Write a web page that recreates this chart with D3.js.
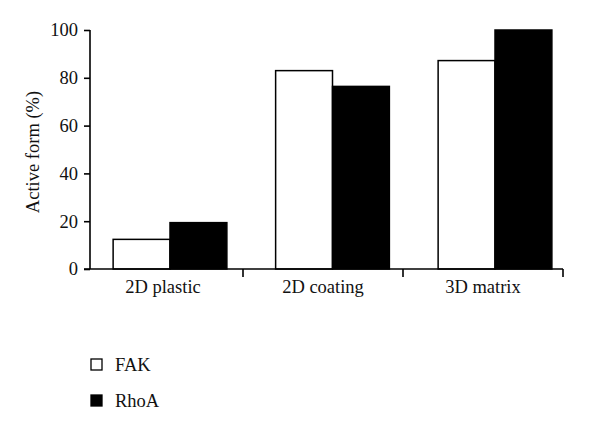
<!DOCTYPE html>
<html><head><meta charset="utf-8">
<script src="https://cdn.jsdelivr.net/npm/d3@7"></script>
<style>body{margin:0;background:#fff;} svg{display:block;} text{font-family:"Liberation Serif","Times New Roman",serif;fill:#111;}</style>
</head><body>
<svg id="c" width="600" height="432"></svg>
<script>
const categories = ["2D plastic", "2D coating", "3D matrix"];
const seriesNames = ["FAK", "RhoA"];
const fakValues = [12.4, 83.0, 87.2];
const rhoaValues = [19.4, 76.4, 100];
const yTicks = [0, 20, 40, 60, 80, 100];
const seriesFill = ["#fff", "#000"];
const FS = "18.5px";

const svg = d3.select("#c");
const y = d3.scaleLinear().domain([0, 100]).range([269, 30]);
const xAxisBand = d3.scaleBand().domain(categories).range([83, 563]).padding(0);
const xGroup = d3.scaleBand().domain(categories).range([88.75, 576.25]).paddingInner(0.3).paddingOuter(0.15);
const xSub = d3.scaleBand().domain(seriesNames).range([0, xGroup.bandwidth()]);

const data = categories.map((c, i) => ({cat: c, vals: [fakValues[i], rhoaValues[i]]}));

// bars
const g = svg.append("g");
data.forEach(d => {
  seriesNames.forEach((s, j) => {
    g.append("rect")
      .attr("x", xGroup(d.cat) + xSub(s))
      .attr("y", y(d.vals[j]))
      .attr("width", xSub.bandwidth())
      .attr("height", y(0) - y(d.vals[j]))
      .attr("fill", seriesFill[j])
      .attr("stroke", "#000")
      .attr("stroke-width", 1.5);
  });
});

// y axis
const yAxis = svg.append("g").attr("transform", "translate(90,0)")
  .call(d3.axisLeft(y).tickValues(yTicks).tickSize(6).tickPadding(6));
yAxis.select(".domain").attr("stroke", "#000").attr("stroke-width", 1.6).attr("d", `M0,${y(0)}V${y(100)}`);
yAxis.selectAll(".tick line").attr("stroke", "#000").attr("stroke-width", 1.6);
yAxis.selectAll(".tick text").style("font-size", FS).style("font-family", '"Liberation Serif",serif').attr("fill", "#111");

// x axis
const xAxis = svg.append("g").attr("transform", `translate(0,${y(0)})`)
  .call(d3.axisBottom(xAxisBand).tickSize(0).tickPadding(0));
xAxis.select(".domain").attr("stroke", "#000").attr("stroke-width", 1.6).attr("d", `M84,0H563`);
xAxis.selectAll(".tick text").style("font-size", FS).style("font-family", '"Liberation Serif",serif').attr("fill", "#111").attr("dy", "0").attr("y", 24);
// boundary ticks
xAxis.selectAll(".bt").data(categories).enter().append("line")
  .attr("x1", d => xAxisBand(d) + xAxisBand.bandwidth()).attr("x2", d => xAxisBand(d) + xAxisBand.bandwidth())
  .attr("y1", 0).attr("y2", 8).attr("stroke", "#000").attr("stroke-width", 1.6);

// y label
svg.append("text").attr("transform", "translate(39,152) rotate(-90)")
  .attr("text-anchor", "middle").style("font-size", FS).text("Active form (%)");

// legend
const legY = [359, 395];
seriesNames.forEach((s, j) => {
  svg.append("rect").attr("x", 91).attr("y", legY[j]).attr("width", 11).attr("height", 11)
    .attr("fill", seriesFill[j]).attr("stroke", "#000").attr("stroke-width", 1.3);
  svg.append("text").attr("x", 115).attr("y", legY[j] + 12).style("font-size", FS).text(s);
});
</script>
</body></html>
